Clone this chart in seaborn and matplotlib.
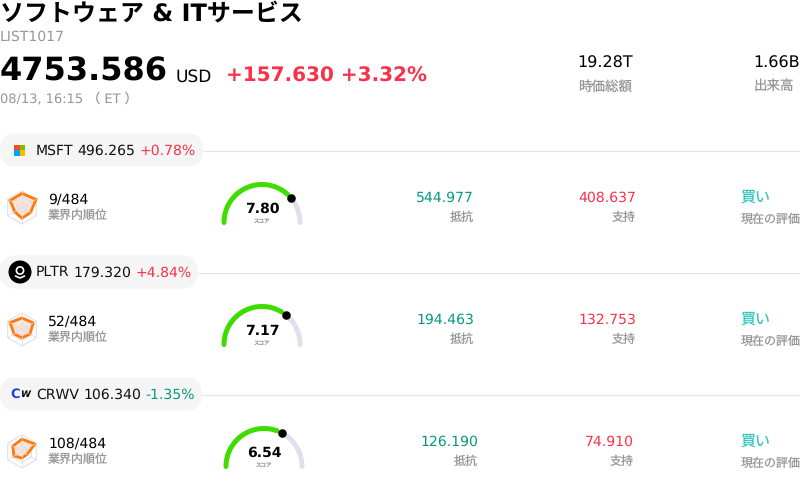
import numpy as np
import pandas as pd
import matplotlib
matplotlib.use("Agg")
import matplotlib.pyplot as plt
from matplotlib.patches import FancyBboxPatch, Rectangle, Circle
import seaborn as sns

sns.set_theme(style="white")
plt.rcParams['font.family'] = ['DejaVu Sans', 'Noto Sans CJK JP']
plt.rcParams['text.hinting'] = 'no_hinting'
plt.rcParams['text.hinting_factor'] = 1

title = "ソフトウェア & ITサービス"
list_id = "LIST1017"
index_value = "4753.586"
index_change = "+157.630 +3.32%"
time_label = "08/13, 16:15 （ ET ）"
header_values = ["19.28T", "1.66B"]
header_labels = ["時価総額", "出来高"]

tickers = ["MSFT", "PLTR", "CRWV"]
prices = ["496.265", "179.320", "106.340"]
changes = ["+0.78%", "+4.84%", "-1.35%"]
ranks = ["9/484", "52/484", "108/484"]
scores = [7.80, 7.17, 6.54]
resistance = ["544.977", "194.463", "126.190"]
support = ["408.637", "132.753", "74.910"]
rating = ["買い", "買い", "買い"]
radar_msft = [0.85, 0.98, 0.60, 0.65, 0.50, 0.84]
radar_pltr = [0.70, 0.80, 0.55, 0.50, 0.55, 0.84]
radar_crwv = [0.75, 0.90, 0.35, 0.40, 0.55, 0.65]

RED = "#f7334b"
GREEN = "#089981"
GREY = "#969696"
TEAL = "#33c6bd"
LINE = "#e3e3ee"

# layout of each row, in pixels
pill_y = [150, 272, 394]
pill_w = [203, 198, 202]
gauge_x = [262, 262, 264]
res_x = [474, 474, 478]
sup_x = [636, 636, 634]
rate_x = [741, 741, 741]

fig = plt.figure(figsize=(8, 4.88), dpi=100)
ax = fig.add_axes([0, 0, 1, 1])
ax.set_xlim(0, 800)
ax.set_ylim(488, 0)


def put(x, y, s, size, color="black", weight="normal", ha="left"):
    return ax.text(x, y, s, fontsize=size * 0.72, color=color, fontweight=weight,
                   ha=ha, va="center", clip_on=True)


def put_run(x, y, parts, size, weight="normal"):
    # draw text pieces one after another
    r = fig.canvas.get_renderer()
    for s, c in parts:
        t = put(x, y, s, size, c, weight)
        x = t.get_window_extent(r).x1 + 0.3 * size


def radar(cx, cy, vals):
    R = 16.5
    ang = np.deg2rad(np.arange(6) * 60)
    px, py = np.sin(ang), -np.cos(ang)
    v = np.array(vals) * R
    ax.fill(cx + v * px, cy + v * py, fc="#fbdcc4", ec="none", alpha=0.7)
    for f in [1.0, 0.66, 0.33]:
        ax.fill(cx + R * f * px, cy + R * f * py, fc="none", ec="#dcdce8", lw=0.7)
    for i in range(6):
        ax.plot([cx, cx + R * px[i]], [cy, cy + R * py[i]], color="#dcdce8", lw=0.5)
    ax.fill(cx + v * px, cy + v * py, fc="none", ec="#ff7a0a", lw=2.0, joinstyle="miter")


def arc(cx, cy, a0, a1, color):
    a = np.deg2rad(np.linspace(a0, a1, 60))
    d = pd.DataFrame({"x": cx + 38 * np.cos(a), "y": cy - 38 * np.sin(a)})
    sns.lineplot(data=d, x="x", y="y", sort=False, estimator=None, color=color,
                 linewidth=3.6, solid_capstyle="round", legend=False, ax=ax)


def gauge(cx, cy, score):
    a = 180 - 18 * score
    arc(cx, cy, a - 9, 0, "#e0e0ec")
    arc(cx, cy, 180, a + 8, "#3fdc00")
    sns.scatterplot(x=[cx + 38 * np.cos(np.deg2rad(a))], y=[cy - 38 * np.sin(np.deg2rad(a))],
                    s=38, color="black", linewidth=0, legend=False, ax=ax, zorder=5)
    put(cx, cy - 13.5, f"{score:.2f}", 14.3, weight="bold", ha="center")
    put(cx, cy - 1.5, "スコア", 5.5, GREY, ha="center")


def logo(i, y):
    if i == 0:
        for c, dx, dy in [("#f25022", 0, 0), ("#7fba00", 1, 0), ("#00a4ef", 0, 1), ("#ffb900", 1, 1)]:
            ax.add_patch(Rectangle((14 + dx * 5.5, y - 5.5 + dy * 5.5), 5.5, 5.5, fc=c, ec="none"))
    elif i == 1:
        ax.add_patch(Circle((20, y), 11.5, fc="black", ec="none"))
        ax.add_patch(Circle((20, y - 1.5), 3.6, fc="none", ec="white", lw=1.2))
        ax.plot([15.5, 20, 24.5], [y + 4, y + 6, y + 4], color="white", lw=1.2)
    else:
        put(10.5, y + 0.5, "C", 13, "#1f3fe0", "bold")
        put(19.7, y + 0.5, "W", 9.5, "black", "bold").set_fontstyle("italic")


# header
put(0, 14.5, title, 24, weight="bold")
put(0, 36.5, list_id, 13.5, GREY)
put(0, 71.5, index_value, 32, weight="bold")
put(176, 77.5, "USD", 16.5)
put(226, 76.5, index_change, 20, RED, "bold")
put(0, 98.5, time_label, 13, GREY)
put(577.5, 63.5, header_values[0], 16)
put(578, 86.5, header_labels[0], 13.5, GREY)
put(753.5, 63.5, header_values[1], 16)
put(754, 86.5, header_labels[1], 13.5, GREY)

for i, y in enumerate(pill_y):
    ax.plot([pill_w[i], 800], [y + 0.5, y + 0.5], color=LINE, lw=0.8)
    ax.add_patch(FancyBboxPatch((16, y - 0.5), pill_w[i] - 32, 1,
                                boxstyle="round,pad=16,rounding_size=16", fc="#f5f5f6", ec="none"))
    logo(i, y)
    put_run(36, y + 0.5, [(tickers[i], "#111111"), (prices[i], "#111111"),
                          (changes[i], RED if changes[i][0] == "+" else GREEN)], 13.7)

    radar(22, y + 57.5, [radar_msft, radar_pltr, radar_crwv][i])
    put(48, y + 49.5, ranks[i], 13.6)
    put(48, y + 65.5, "業界内順位", 12, GREY)
    gauge(gauge_x[i], y + 72.5, scores[i])

    put(res_x[i], y + 47.5, resistance[i], 13.8, GREEN, ha="right")
    put(res_x[i], y + 67.5, "抵抗", 12, GREY, ha="right")
    put(sup_x[i], y + 47.5, support[i], 13.8, RED, ha="right")
    put(sup_x[i], y + 67.5, "支持", 12, GREY, ha="right")
    put(rate_x[i], y + 48, rating[i], 15, TEAL)
    put(rate_x[i], y + 69.5, "現在の評価", 12, GREY)

ax.set_xlim(0, 800)
ax.set_ylim(488, 0)
ax.set_axis_off()
fig.savefig("out.png", dpi=100, facecolor="white")
